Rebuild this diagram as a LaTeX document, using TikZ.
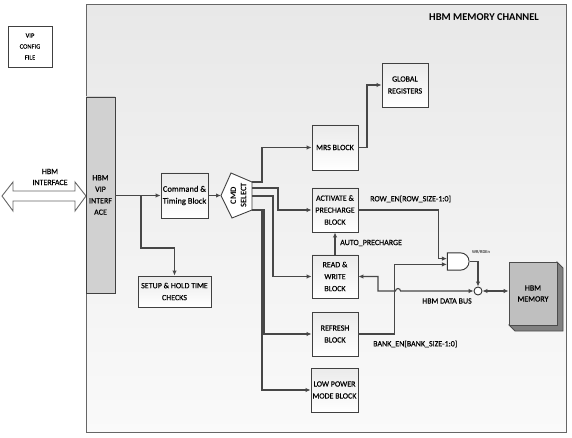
\documentclass[tikz,border=0pt]{standalone}
\usepackage{fontspec}
\setmainfont{Carlito}
\newfontfamily\blkfont{Carlito}[FakeBold=0.35]
\usetikzlibrary{arrows.meta,shadows,shapes.gates.logic.US,calc}
\begin{document}
\begin{tikzpicture}[x=1bp,y=-1bp,
  line/.style={draw=black!72, line width=1.1bp},
  conn/.style={line, -{Latex[length=5bp,width=4.5bp]}},
  dconn/.style={line, {Latex[length=5bp,width=4.5bp]}-{Latex[length=5bp,width=4.5bp]}},
  blk/.style={draw=black!75, line width=0.9bp, top color=black!8, bottom color=white,
    align=center, font=\blkfont\fontsize{8}{12}\selectfont, inner sep=1bp, text=black,
    drop shadow={shadow xshift=1.2bp, shadow yshift=-1.2bp, opacity=0.3}},
  lbl/.style={font=\blkfont\fontsize{8}{11}\selectfont, text=black, inner sep=0pt},
]
\useasboundingbox (0,0) rectangle (572,438);

% channel frame
\node[draw=black!60, line width=1.2bp, top color=black!9, bottom color=black!2,
  minimum width=480bp, minimum height=428bp, anchor=north west, inner sep=0pt] (chan) at (86,4) {};
\node[font=\bfseries\fontsize{10.5}{12}\selectfont, text=black] (title) at (484,17) {HBM MEMORY CHANNEL};

% config file
\node[blk, font=\blkfont\fontsize{6.5}{11}\selectfont, minimum width=44bp, minimum height=41bp,
  top color=white, bottom color=white] (cfg) at (30,46.5) {VIP\\CONFIG\\FILE};

% HBM interface double arrow
\draw[draw=black!60, line width=0.9bp, fill=white] (2,196) -- (13,182) -- (13,191) -- (75,191) -- (75,182)
  -- (86,196) -- (75,211) -- (75,201) -- (13,201) -- (13,211) -- cycle;
\node[lbl, align=center] (hbmif) at (50,177) {HBM\\INTERFACE};

% VIP interface
\node[blk, top color=black!18, bottom color=black!18, drop shadow={opacity=0},
  font=\blkfont\fontsize{8}{11.5}\selectfont, minimum width=29bp, minimum height=196bp] (vip) at (100.5,195) {HBM\\VIP\\INTERF\\ACE};

% blocks
\node[blk, font=\blkfont\fontsize{8.5}{12}\selectfont, minimum width=47bp, minimum height=45bp] (cmdt) at (184.5,195.5) {Command \&\\Timing Block};
\node[blk, minimum width=73bp, minimum height=31bp] (setup) at (174.5,291.5) {SETUP \& HOLD TIME\\CHECKS};
\node[blk, minimum width=46bp, minimum height=45bp] (mrs) at (335,147.5) {MRS BLOCK};
\node[blk, minimum width=46bp, minimum height=44bp] (glob) at (405,85) {GLOBAL\\REGISTERS};
\node[blk, minimum width=46bp, minimum height=44bp] (act) at (335,210) {ACTIVATE \&\\PRECHARGE\\BLOCK};
\node[blk, minimum width=46bp, minimum height=43bp] (rw) at (335,276.5) {READ \&\\WRITE\\BLOCK};
\node[blk, minimum width=46bp, minimum height=44bp] (ref) at (335,334) {REFRESH\\BLOCK};
\node[blk, minimum width=47bp, minimum height=44bp] (lp) at (334.5,390) {LOW POWER\\MODE BLOCK};

% CMD select pentagon
\coordinate (cL) at (221,195.5);
\coordinate (cT) at (231,173);
\coordinate (cTR) at (252,182);
\coordinate (cBR) at (252,210);
\coordinate (cB) at (232,218);
\draw[draw=black!75, line width=0.9bp, fill=white] (cL) -- (cT) -- (cTR) -- (cBR) -- (cB) -- cycle;
\node[font=\bfseries\fontsize{8.5}{10.5}\selectfont, text=black, rotate=90, align=center, inner sep=0pt] (cmd) at (238.5,195.5) {CMD\\SELECT};

% HBM memory
\draw[draw=black!70, fill=black!50, line width=0.8bp] (557,262) -- (563,268) -- (563,331) -- (515,331) -- (509,325) -- (557,325) -- cycle;
\node[draw=black!70, fill=black!25, line width=0.8bp, minimum width=48bp, minimum height=63bp, inner sep=0pt,
  align=center, font=\blkfont\fontsize{8}{11}\selectfont, text=black] (mem) at (533,293.5) {HBM\\MEMORY};

% gate and join
\node[and gate US, draw=black!80, fill=white, logic gate inputs=nn, minimum width=15bp, minimum height=17bp,
  inner sep=0pt, line width=0.9bp] (andg) at (457.5,261.5) {};
\node[circle, draw=black!80, fill=white, minimum size=8bp, inner sep=0pt, line width=0.9bp] (xo) at (478,291) {};

% connectors
\draw[conn] (vip.east |- cmdt.west) -- (cmdt.west);
\coordinate (br) at (141,195.5);
\draw[conn] (br) -- (141,248) -| (setup.north);
\draw[conn] (cmdt.east) -- (cL);
\draw[conn] (cTR) -- (262,182) |- (mrs.west);
\draw[conn] (252,188) -- (278,188) |- (act.west);
\draw[conn] (252,196) -- (273,196) |- (rw.west);
\draw[conn] (cBR) -- (264,210) |- (ref.west);
\draw[conn] (cBR) -- (262,210) |- (lp.west);
\draw[conn] (mrs.east) -- (367,147.5) |- (glob.west);
\draw[conn] (rw.north) -- (act.south);
\draw[conn] (act.east) -| ([xshift=-8bp]andg.input 1) -- (andg.input 1);
\draw[conn] (ref.east) -| ([xshift=-52bp]andg.input 2) -- (andg.input 2);
\draw[conn] (andg.output) -| (xo.north);
\draw[dconn] (rw.east) -| (378,291) -- (395.5,291) arc[start angle=180, end angle=360, radius=2.5] -- (xo.west);
\draw[dconn] (xo.east) -- (xo.east -| mem.west);

% labels
\node[lbl, anchor=west] (lap) at (340,243) {AUTO\_PRECHARGE};
\node[lbl, anchor=west] (lrow) at (370,199) {ROW\_EN[ROW\_SIZE-1:0]};
\node[lbl, anchor=west] (lbank) at (373,344) {BANK\_EN[BANK\_SIZE-1:0]};
\node[lbl] (lbus) at (447,301) {HBM DATA BUS};
\node[lbl, font=\fontsize{4.5}{5}\selectfont] (lwr) at (481,252) {WR/RDEn};
\end{tikzpicture}
\end{document}
